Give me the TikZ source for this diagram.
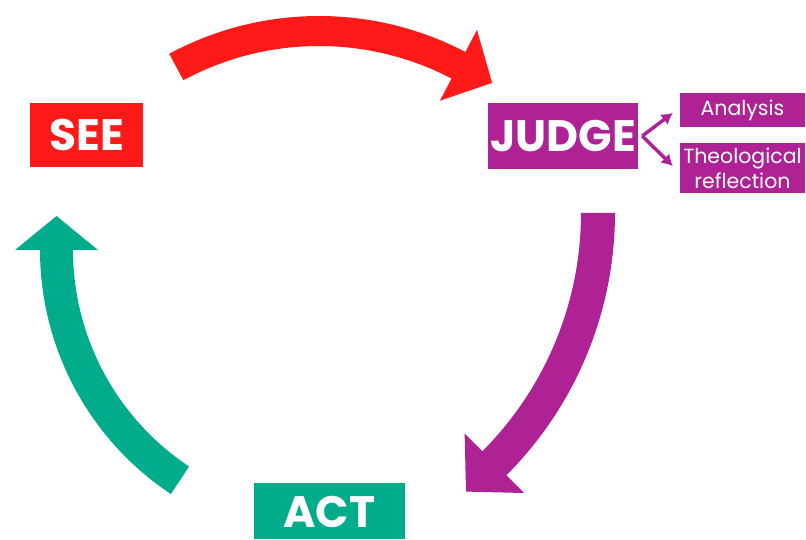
\documentclass[tikz,border=0pt]{standalone}
\usepackage{fontspec}
\setmainfont{Poppins}
\usetikzlibrary{arrows.meta,calc}
\definecolor{seered}{RGB}{255,26,26}
\definecolor{judgepurple}{RGB}{174,34,149}
\definecolor{actteal}{RGB}{0,172,140}
\tikzset{
  stagebox/.style={inner sep=0pt,text=white,font=\fontsize{44}{50}\selectfont\bfseries},
  sidebox/.style={fill=judgepurple,inner sep=0pt,text=white,align=center,
    font=\fontsize{20.5}{25}\selectfont,minimum width=125pt},
  sidearrow/.style={judgepurple,line width=3.5pt,-{Latex[length=11pt,width=13pt]}}
}
\begin{document}
\begin{tikzpicture}[x=1pt,y=1pt]
\useasboundingbox (0,0) rectangle (806,540);
\clip (0,0) rectangle (806,540);
% stages
\node[stagebox,fill=seered,minimum width=113pt,minimum height=64pt] (see) at (86.5,405) {SEE};
\node[stagebox,fill=judgepurple,minimum width=150pt,minimum height=66pt] (judge) at (563,404) {JUDGE};
\node[stagebox,fill=actteal,minimum width=151pt,minimum height=56pt,
  text height=39pt,text depth=6pt] (act) at (329.5,29) {ACT};
% judge details
\node[sidebox,minimum height=34pt] (analysis) at (742.5,430) {Analysis};
\node[sidebox,minimum height=50pt] (theo) at (742.5,372) {Theological\\reflection};
\draw[sidearrow] ([xshift=4pt]judge.east) -- ([xshift=-7pt,yshift=-3pt]analysis.west);
\draw[sidearrow] ([xshift=4pt]judge.east) -- ([xshift=-7pt,yshift=2pt]theo.west);
% cycle arrows
\coordinate (seec) at (319,208);
\fill[seered] ($(seec)+(118.3:316)$) arc[start angle=118.3,end angle=62.4,radius=316]
  -- ($(seec)+(62.4:341)$) -- ($(seec)+(62.4:301)+(-27.6:38)$) -- ($(seec)+(62.4:261)$)
  -- ($(seec)+(62.4:286)$) arc[start angle=62.4,end angle=118.3,radius=286] -- cycle;
\coordinate (judgec) at (244,327);
\fill[judgepurple] ($(judgec)+(0:371)$) arc[start angle=0,end angle=-45,radius=371]
  -- ($(judgec)+(-45:396)$) -- ($(judgec)+(-45:354)+(-135:40)$) -- ($(judgec)+(-45:312)$)
  -- ($(judgec)+(-45:337)$) arc[start angle=-45,end angle=0,radius=337] -- cycle;
\coordinate (actc) at (333,290);
\fill[actteal] ($(actc)+(236.4:293)$) arc[start angle=236.4,end angle=180,radius=293]
  -- ($(actc)+(180:318)$) -- ($(actc)+(180:276.5)+(90:34)$) -- ($(actc)+(180:235)$)
  -- ($(actc)+(180:260)$) arc[start angle=180,end angle=236.4,radius=260] -- cycle;
\end{tikzpicture}
\end{document}
